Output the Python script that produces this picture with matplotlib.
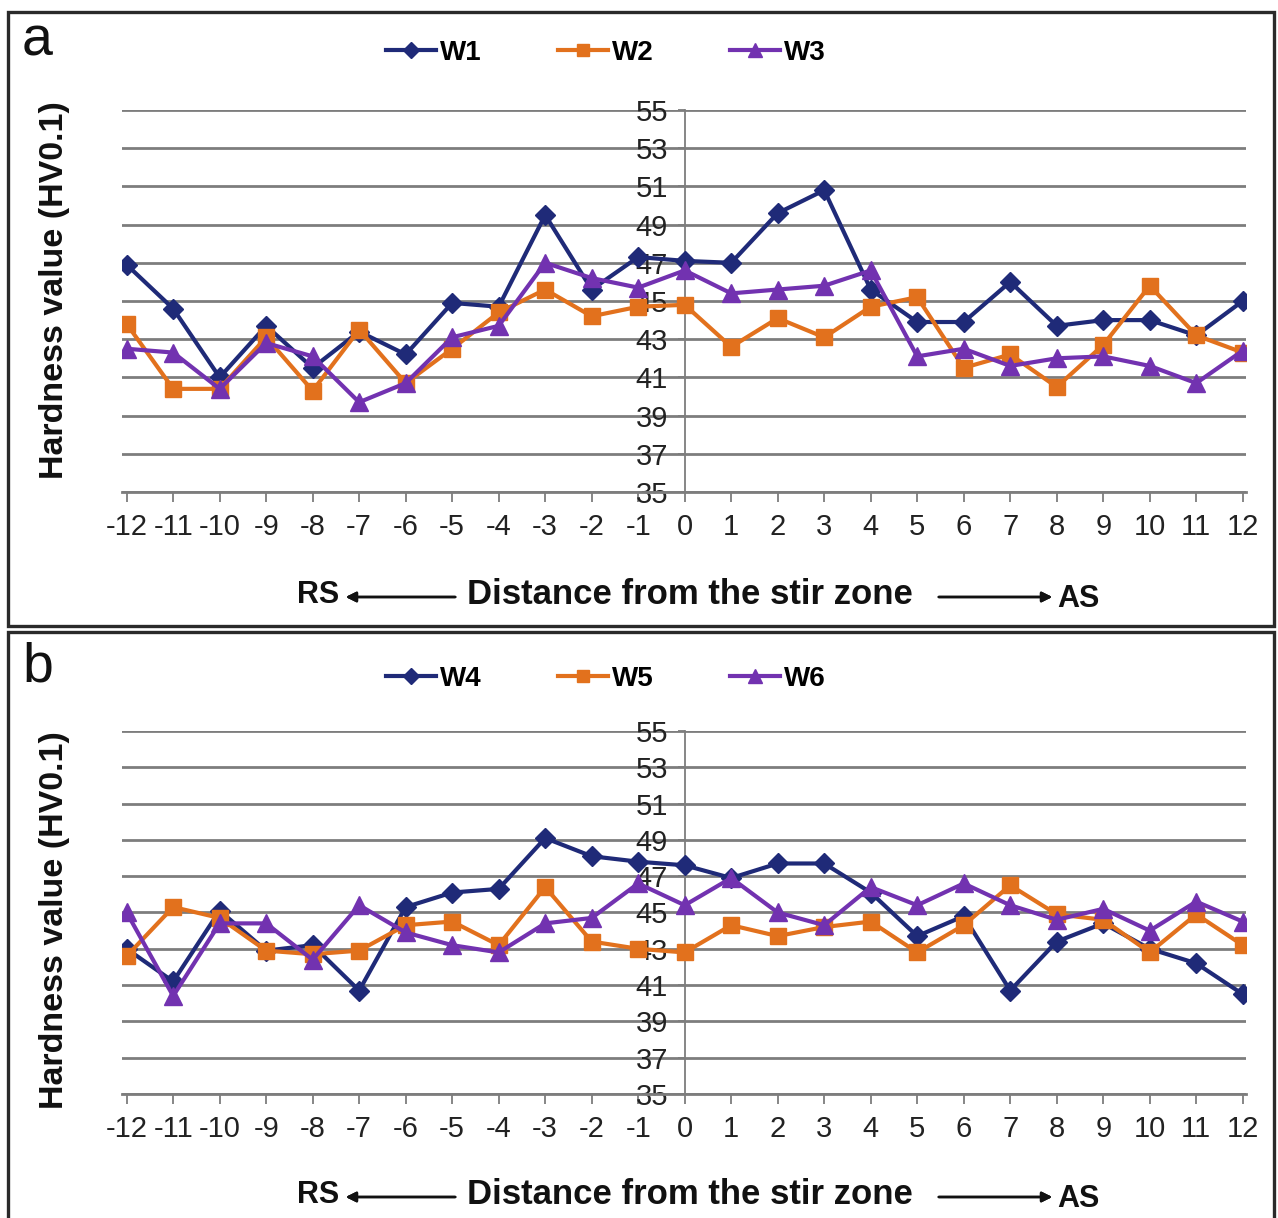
import numpy as np
import matplotlib.pyplot as plt
from matplotlib.lines import Line2D
from matplotlib.patches import Rectangle

plt.rcParams['font.family'] = ['Liberation Sans', 'DejaVu Sans']
plt.rcParams['axes.unicode_minus'] = False

# distance from the stir zone (categories)
distance = list(range(-12, 13))
tick_labels = [str(d) for d in distance]

# panel a
w1 = [46.9, 44.6, 41.0, 43.7, 41.5, 43.4, 42.2, 44.9, 44.7, 49.5, 45.6, 47.3, 47.1,
      47.0, 49.6, 50.8, 45.6, 43.9, 43.9, 46.0, 43.7, 44.0, 44.0, 43.2, 45.0]
w2 = [43.8, 40.4, 40.4, 43.1, 40.3, 43.5, 40.7, 42.5, 44.4, 45.6, 44.2, 44.7, 44.8,
      42.6, 44.1, 43.1, 44.7, 45.2, 41.5, 42.2, 40.5, 42.7, 45.8, 43.2, 42.3]
w3 = [42.5, 42.3, 40.4, 42.8, 42.1, 39.7, 40.7, 43.1, 43.7, 47.0, 46.2, 45.7, 46.6,
      45.4, 45.6, 45.8, 46.6, 42.1, 42.5, 41.6, 42.0, 42.1, 41.6, 40.7, 42.4]

# panel b
w4 = [43.0, 41.2, 45.1, 42.9, 43.2, 40.7, 45.3, 46.1, 46.3, 49.1, 48.1, 47.8, 47.6,
      46.9, 47.7, 47.7, 46.1, 43.7, 44.8, 40.7, 43.4, 44.4, 43.0, 42.2, 40.5]
w5 = [42.6, 45.3, 44.7, 42.9, 42.7, 42.9, 44.3, 44.5, 43.2, 46.4, 43.4, 43.0, 42.8,
      44.3, 43.7, 44.2, 44.5, 42.8, 44.3, 46.5, 44.9, 44.6, 42.8, 44.9, 43.2]
w6 = [45.0, 40.4, 44.4, 44.4, 42.4, 45.4, 43.9, 43.2, 42.8, 44.4, 44.7, 46.6, 45.4,
      46.9, 45.0, 44.3, 46.4, 45.4, 46.6, 45.4, 44.6, 45.2, 44.0, 45.6, 44.5]

NAVY = '#1f2a78'
ORANGE = '#e2711d'
PURPLE = '#7232b0'
GRID = '#7d7d7d'
TEXT = '#111111'
STYLES = [(NAVY, 'D', 10.5), (ORANGE, 's', 11.0), (PURPLE, '^', 12.5)]

W, H = 1278, 1218
fig = plt.figure(figsize=(W / 100, H / 100), dpi=100)


def fx(px):
    return px / W


def fy(py):
    return 1 - py / H


def draw_panel(top, bottom, series, names, letter, letter_y, legend_y, label_y, ylab_y):
    ax = fig.add_axes([fx(122), fy(bottom), fx(1246) - fx(122), fy(top) - fy(bottom)])
    for vals, (color, marker, ms) in zip(series, STYLES):
        ax.plot(distance, vals, color=color, lw=3.0, marker=marker, ms=ms,
                mec=color, mfc=color, zorder=3)
    ax.set_xlim(-12.1, 12.07)
    ax.set_ylim(35, 55)
    ax.set_yticks(range(35, 56, 2))
    ax.set_xticks(distance)
    ax.set_xticklabels(tick_labels)
    ax.yaxis.grid(True, color=GRID, lw=2.0)
    ax.set_axisbelow(True)
    for s in ('top', 'right'):
        ax.spines[s].set_visible(False)
    ax.spines['left'].set_position(('data', 0))
    ax.spines['left'].set_color(GRID)
    ax.spines['left'].set_linewidth(1.3)
    ax.spines['bottom'].set_color(GRID)
    ax.spines['bottom'].set_linewidth(2.0)
    ax.tick_params(axis='x', length=7, width=1.3, color=GRID, pad=8,
                   labelsize=21, labelcolor='#222222')
    ax.tick_params(axis='y', length=5, width=1.3, color=GRID, pad=7,
                   labelsize=21, labelcolor='#222222')

    fig.text(fx(55), fy(ylab_y), 'Hardness value (HV0.1)', rotation=90,
             ha='center', va='center', fontsize=24.5, fontweight='bold', color=TEXT)
    fig.text(fx(22), fy(letter_y), letter, ha='left', va='center', fontsize=40,
             color=TEXT)

    handles = [Line2D([], [], color=c, marker=m, ms=ms * 0.8, lw=3.0)
               for c, m, ms in STYLES]
    fig.legend(handles, names, loc='center', bbox_to_anchor=(fx(606), fy(legend_y)),
               ncol=3, frameon=False, handlelength=1.8, handletextpad=0.15,
               columnspacing=2.75, prop={'weight': 'bold', 'size': 20})

    fig.text(fx(690), fy(label_y), 'Distance from the stir zone', ha='center',
             va='center', fontsize=25, fontweight='bold', color=TEXT)
    fig.text(fx(318), fy(label_y), 'RS', ha='center', va='center', fontsize=22,
             fontweight='bold', color=TEXT)
    fig.text(fx(1078), fy(label_y + 4), 'AS', ha='center', va='center', fontsize=22,
             fontweight='bold', color=TEXT)
    arrow = dict(arrowstyle='-|>', color=TEXT, lw=1.8, mutation_scale=15)
    fig.add_artist(plt.annotate('', xy=(fx(343), fy(label_y + 2)),
                                xytext=(fx(458), fy(label_y + 2)),
                                xycoords='figure fraction', arrowprops=arrow))
    fig.add_artist(plt.annotate('', xy=(fx(1055), fy(label_y + 2)),
                                xytext=(fx(936), fy(label_y + 2)),
                                xycoords='figure fraction', arrowprops=arrow))
    return ax


draw_panel(110, 492, [w1, w2, w3], ['W1', 'W2', 'W3'], 'a', 42, 53, 595, 290)
draw_panel(731, 1094, [w4, w5, w6], ['W4', 'W5', 'W6'], 'b', 668, 679, 1195, 920)

# panel frames
for y0, y1 in ((12, 626), (632, 1225)):
    fig.add_artist(Rectangle((fx(8), fy(y1)), fx(1274) - fx(8), fy(y0) - fy(y1),
                             transform=fig.transFigure, fill=False,
                             ec='#2a2a2a', lw=2.4))

fig.savefig('out.png', dpi=100)
